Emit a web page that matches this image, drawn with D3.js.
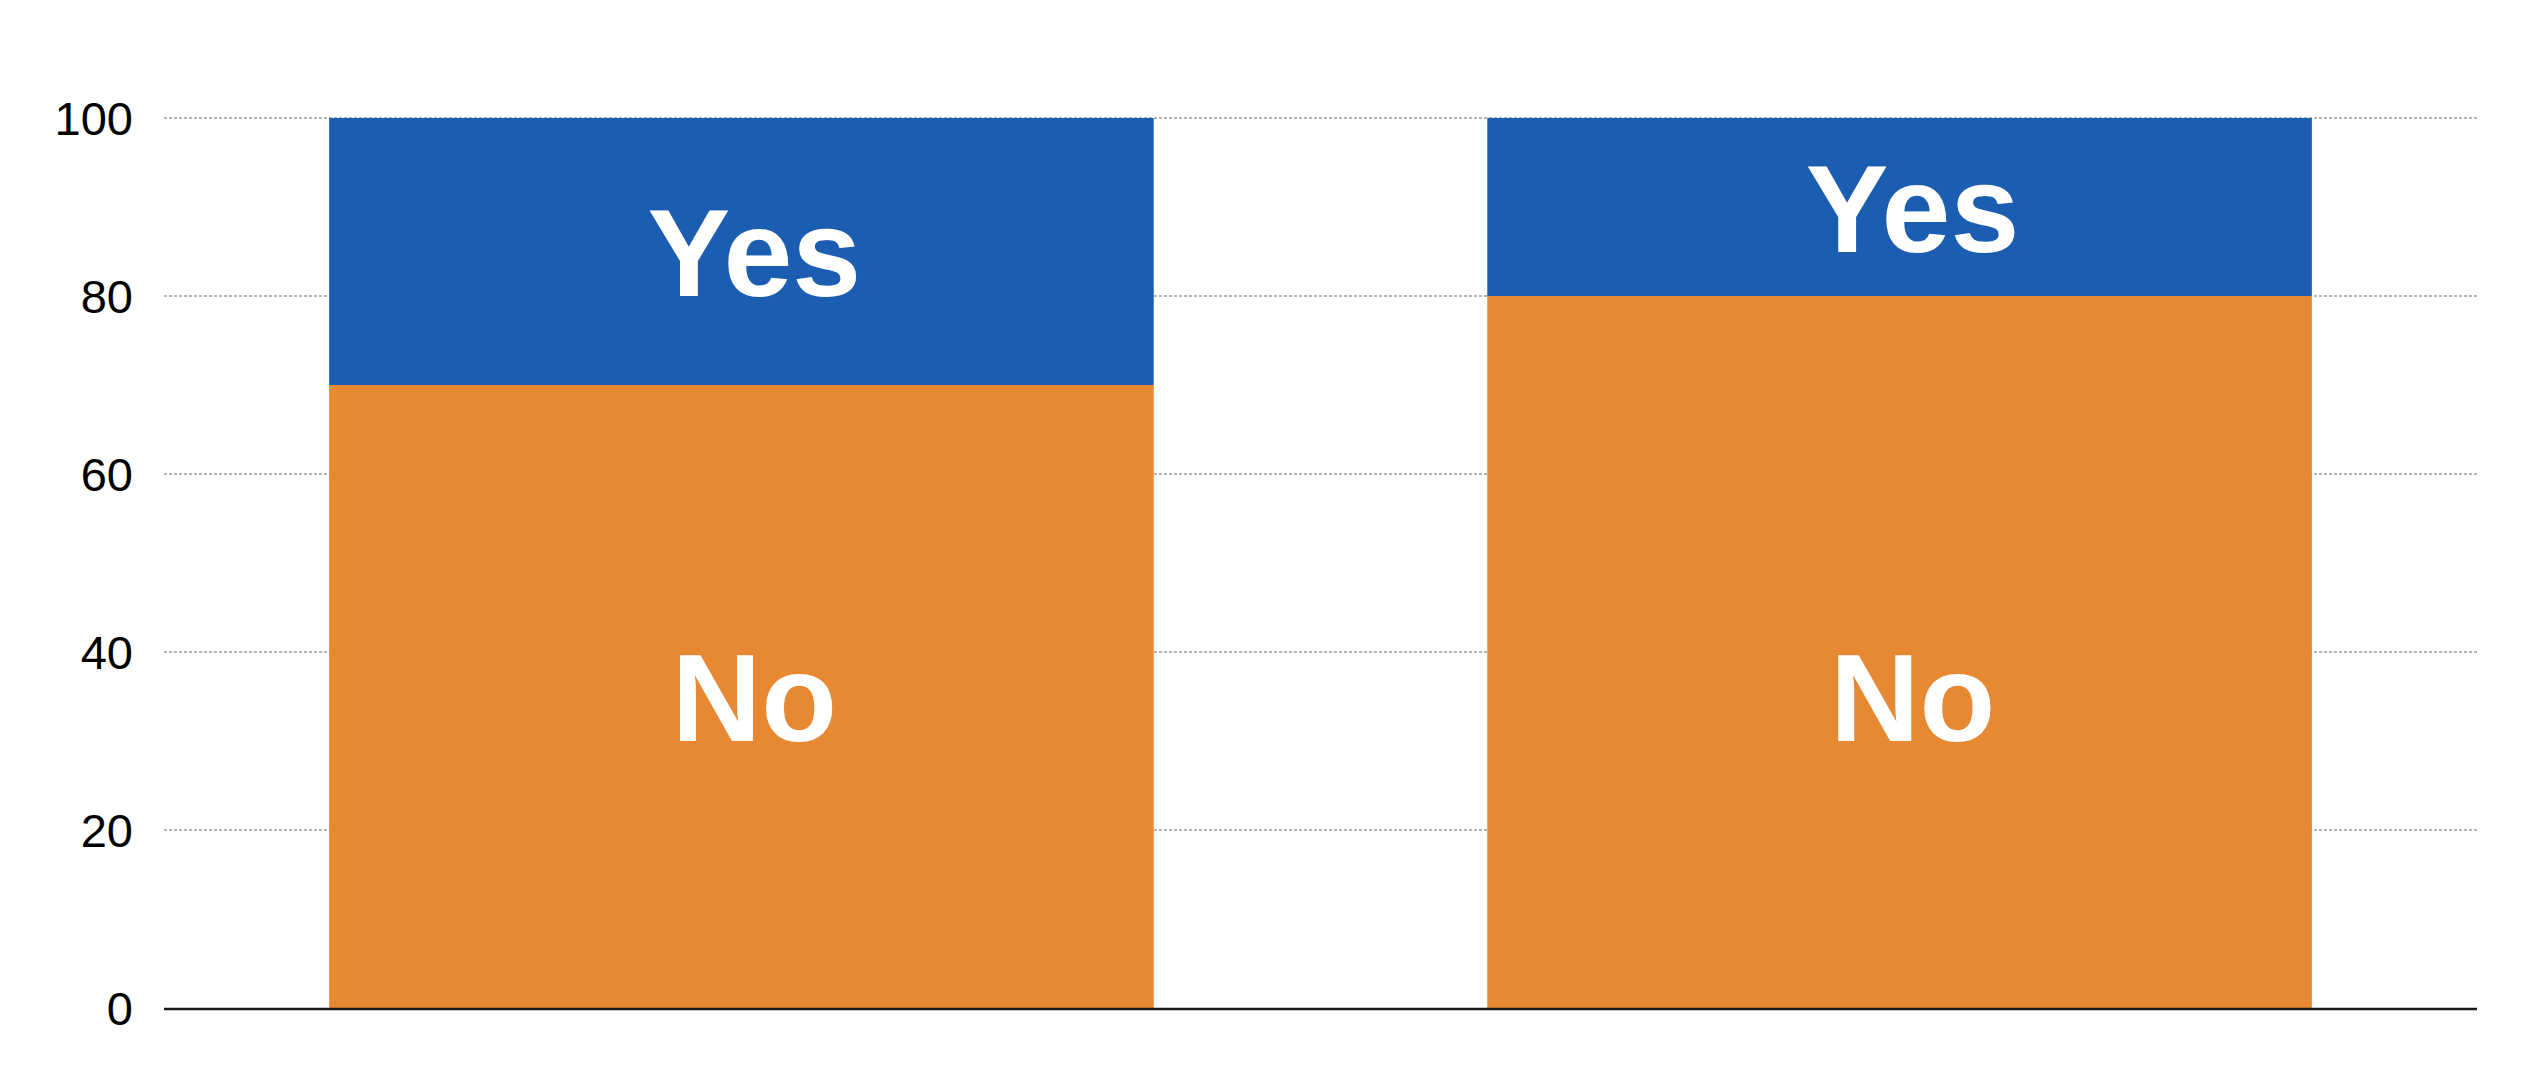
<!DOCTYPE html>
<html>
<head>
<meta charset="utf-8">
<script src="https://cdn.jsdelivr.net/npm/d3@7"></script>
<style>
  html, body { margin: 0; padding: 0; background: #ffffff; }
  svg { display: block; }
</style>
</head>
<body>
<svg id="chart" width="2544" height="1066"></svg>
<script>
// ---- data ----
const categories = ["A", "B"];
const seriesNames = ["No", "Yes"];
const noValues = [70, 80];
const yesValues = [30, 20];
const yTicks = [0, 20, 40, 60, 80, 100];

// ---- build table for stack ----
const table = categories.map((c, i) => ({ category: c, No: noValues[i], Yes: yesValues[i] }));
const stacked = d3.stack().keys(seriesNames)(table);

const colors = { No: "#e78932", Yes: "#1a5db1" };

const svg = d3.select("#chart");
const margin = { left: 164, right: 2544 - 2477, top: 118, bottom: 1066 - 1008 };
const W = 2544, H = 1066;

const x = d3.scaleBand()
  .domain(categories)
  .range([margin.left, W - margin.right])
  .paddingInner(0.288)
  .paddingOuter(0.1426);

const y = d3.scaleLinear()
  .domain([0, 100])
  .range([H - margin.bottom, margin.top]);

// gridlines
const grid = svg.append("g");
grid.selectAll("line")
  .data(yTicks.filter(t => t !== 0))
  .join("line")
  .attr("x1", margin.left)
  .attr("x2", W - margin.right + 2)
  .attr("y1", d => y(d))
  .attr("y2", d => y(d))
  .attr("stroke", "#9a9a9a")
  .attr("stroke-width", 1.5)
  .attr("stroke-dasharray", "3,2");

// y axis labels via d3.axisLeft
const yAxis = d3.axisLeft(y).tickValues(yTicks).tickSize(0).tickPadding(0);
const yAxisG = svg.append("g")
  .attr("transform", `translate(133,0)`)
  .call(yAxis);
yAxisG.select(".domain").remove();
yAxisG.selectAll("text")
  .attr("font-family", "'Liberation Sans', Arial, sans-serif")
  .attr("font-size", 47)
  .attr("fill", "#000")
  .attr("dy", "0.36em");

// bars
const layers = svg.append("g").selectAll("g")
  .data(stacked)
  .join("g")
  .attr("fill", d => colors[d.key]);

layers.selectAll("rect")
  .data(d => d)
  .join("rect")
  .attr("x", d => x(d.data.category))
  .attr("width", x.bandwidth())
  .attr("y", d => y(d[1]))
  .attr("height", d => y(d[0]) - y(d[1]));

// x axis baseline
svg.append("line")
  .attr("x1", margin.left)
  .attr("x2", W - margin.right)
  .attr("y1", y(0) + 1)
  .attr("y2", y(0) + 1)
  .attr("stroke", "#1a1a1a")
  .attr("stroke-width", 2.5);

// segment labels
const noLabelValue = d3.min(noValues) / 2;
const labelG = svg.append("g")
  .attr("font-family", "'Liberation Sans', Arial, sans-serif")
  .attr("font-weight", "bold")
  .attr("font-size", 124)
  .attr("fill", "#ffffff")
  .attr("text-anchor", "middle");

stacked.forEach(layer => {
  layer.forEach(d => {
    const cy = layer.key === "No" ? y(noLabelValue) : y((d[0] + d[1]) / 2);
    labelG.append("text")
      .attr("x", x(d.data.category) + x.bandwidth() / 2 + 13)
      .attr("y", cy)
      .attr("dy", "0.36em")
      .text(layer.key);
  });
});
</script>
</body>
</html>
